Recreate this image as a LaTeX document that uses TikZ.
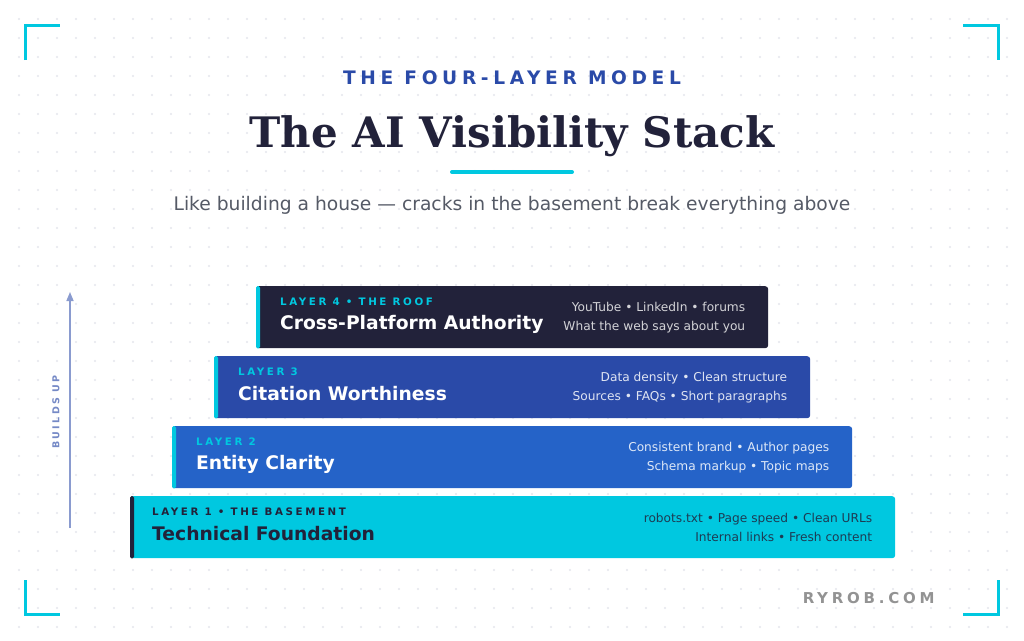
\documentclass[tikz,border=0pt]{standalone}
\usepackage{fontspec}
\setmainfont{DejaVu Sans}
\newfontfamily\titlefont{DejaVu Serif}
\newfontfamily\spaced{DejaVu Sans}[LetterSpace=25]
\usetikzlibrary{positioning,arrows.meta}
\definecolor{ink}{HTML}{22223A}
\definecolor{cyanx}{HTML}{00C8E0}
\definecolor{royal}{HTML}{2A4AA8}
\definecolor{azure}{HTML}{2563C8}
\definecolor{dotc}{HTML}{E4E6EC}
\definecolor{greyt}{HTML}{555A66}
\tikzset{
  layer/.style={anchor=north west, minimum height=62pt, inner sep=0pt, rounded corners=3pt},
  kicker/.style={anchor=west, inner sep=0pt, font=\spaced\bfseries\fontsize{10.3}{12}\selectfont},
  lname/.style={anchor=west, inner sep=0pt, font=\bfseries\fontsize{18.7}{22}\selectfont},
  notes/.style={anchor=east, inner sep=0pt, align=right, font=\fontsize{12.2}{19}\selectfont},
  corner/.style={cyanx, line width=3pt}
}
\begin{document}
\begin{tikzpicture}[x=1pt,y=-1pt]
\useasboundingbox (0,0) rectangle (1024,640);
\fill[white] (0,0) rectangle (1024,640);
% dot grid
\foreach \i in {1,...,53} \foreach \j in {1,...,33}
  \fill[dotc] (\i*19,\j*19) circle (1.1pt);
% corners
\draw[corner] (25,60) -- (25,25) -- (60,25);
\draw[corner] (963,25) -- (998,25) -- (998,60);
\draw[corner] (25,580) -- (25,614) -- (60,614);
\draw[corner] (963,614) -- (998,614) -- (998,580);
% header
\node (kick) at (512,78) {\spaced\bfseries\color{royal}\fontsize{18.6}{22}\selectfont THE FOUR-LAYER MODEL};
\node (title) at (512,136) {\titlefont\bfseries\color{ink}\fontsize{42}{48}\selectfont The AI Visibility Stack};
\draw[cyanx, line width=4pt, line cap=round] (452,172) -- (572,172);
\node (sub) at (512,205) {\color{greyt}\fontsize{18.7}{22}\selectfont Like building a house — cracks in the basement break everything above};
% layers
\node[layer, fill=ink, minimum width=512pt] (l4) at (256,286) {};
\node[layer, fill=royal, minimum width=596pt] (l3) at (214,356) {};
\node[layer, fill=azure, minimum width=680pt] (l2) at (172,426) {};
\node[layer, fill=cyanx, minimum width=765pt] (l1) at (130,496) {};
\foreach \n/\c in {l4/cyanx,l3/cyanx,l2/cyanx,l1/ink}
  \fill[\c, rounded corners=1.5pt] (\n.north west) rectangle ([xshift=4pt]\n.south west);
\node[kicker, text=cyanx] at ([xshift=24pt,yshift=-16pt]l4.north west) {LAYER 4 • THE ROOF};
\node[lname, text=white] at ([xshift=24pt,yshift=-38pt]l4.north west) {Cross-Platform Authority};
\node[notes, text=white!80!ink] at ([xshift=-23pt]l4.east) {YouTube • LinkedIn • forums\\What the web says about you};
\node[kicker, text=cyanx] at ([xshift=24pt,yshift=-16pt]l3.north west) {LAYER 3};
\node[lname, text=white] at ([xshift=24pt,yshift=-38pt]l3.north west) {Citation Worthiness};
\node[notes, text=white!85!royal] at ([xshift=-23pt]l3.east) {Data density • Clean structure\\Sources • FAQs • Short paragraphs};
\node[kicker, text=cyanx] at ([xshift=24pt,yshift=-16pt]l2.north west) {LAYER 2};
\node[lname, text=white] at ([xshift=24pt,yshift=-38pt]l2.north west) {Entity Clarity};
\node[notes, text=white!85!azure] at ([xshift=-23pt]l2.east) {Consistent brand • Author pages\\Schema markup • Topic maps};
\node[kicker, text=ink] at ([xshift=22pt,yshift=-16pt]l1.north west) {LAYER 1 • THE BASEMENT};
\node[lname, text=ink] at ([xshift=22pt,yshift=-38pt]l1.north west) {Technical Foundation};
\node[notes, text=ink!85!cyanx] at ([xshift=-23pt]l1.east) {robots.txt • Page speed • Clean URLs\\Internal links • Fresh content};
% arrow
\coordinate (base) at (70,528);
\coordinate (top) at (70,292);
\draw[-{Triangle[length=9pt,width=7pt]}, line width=1.5pt, color=royal!55] (base) -- (top);
\node[rotate=90, font=\spaced\bfseries\fontsize{9.5}{11}\selectfont, text=royal!65] (builds) at (56,412) {BUILDS UP};
% footer
\node[anchor=east, font=\spaced\bfseries\fontsize{15}{18}\selectfont, text=gray!85] (site) at (938,598) {RYROB.COM};
\end{tikzpicture}
\end{document}
